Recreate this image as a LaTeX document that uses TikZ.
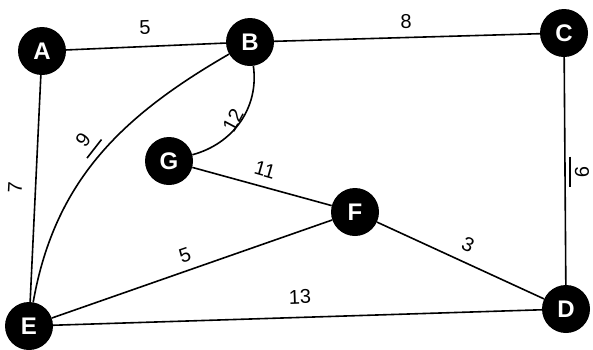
\documentclass[tikz,border=0pt]{standalone}
\usepackage{fontspec}
\setmainfont{Liberation Sans}
\begin{document}
\begin{tikzpicture}[x=1pt,y=-1pt,
  vtx/.style={circle, fill=black, minimum size=48pt, inner sep=0pt, text=white,
    font=\fontsize{24}{24}\selectfont\bfseries},
  edge/.style={line width=1.6pt},
  wt/.style={font=\fontsize{20}{20}\selectfont, inner sep=0pt},
  tick/.style={line width=1.6pt}]
\useasboundingbox[fill=white] (0,0) rectangle (593,349);
% vertices
\node[vtx] (A) at (42,51) {A};
\node[vtx] (B) at (250,42) {B};
\node[vtx] (C) at (564,33) {C};
\node[vtx] (G) at (169,161) {G};
\node[vtx] (F) at (355,212) {F};
\node[vtx] (D) at (566,309) {D};
\node[vtx] (E) at (29,326) {E};
% edges
\draw[edge] (A) -- (B);
\draw[edge] (B) -- (C);
\draw[edge] (A) -- (E);
\draw[edge] (C) -- (D);
\draw[edge] (G) -- (F);
\draw[edge] (E) -- (F);
\draw[edge] (F) -- (D);
\draw[edge] (E) -- (D);
\draw[edge] (E) to[out=80, in=210] (B);
\draw[edge] (B) to[out=-82, in=15] (G);
% weights
\node[wt, rotate=2] (wAB) at (145,28) {5};
\node[wt, rotate=1] (wBC) at (406,22) {8};
\node[wt, rotate=87] (wAE) at (15,188) {7};
\node[wt, rotate=52, inner xsep=6pt, inner ysep=7pt] (wBE) at (83,140) {9};
\draw[tick] (wBE.south west) -- (wBE.south east);
\node[wt, rotate=-90, inner xsep=9.5pt, inner ysep=5pt] (wCD) at (582,172) {9};
\draw[tick] (wCD.south west) -- (wCD.south east);
\node[wt, rotate=62] (wBG) at (233,120) {12};
\node[wt, rotate=-16] (wGF) at (265,170) {11};
\node[wt, rotate=19] (wEF) at (185,255) {5};
\node[wt, rotate=-25] (wFD) at (468,245) {3};
\node[wt, rotate=2] (wED) at (300,297) {13};
\end{tikzpicture}
\end{document}
